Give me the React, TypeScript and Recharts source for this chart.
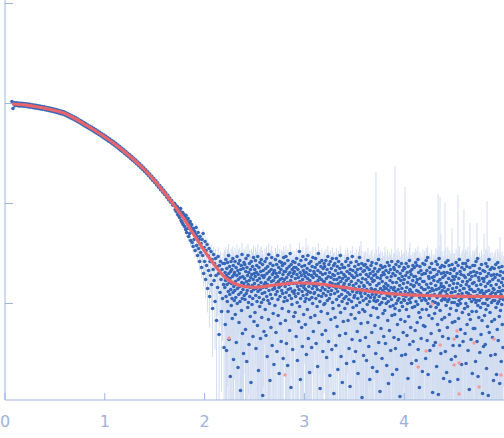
import { ComposedChart, Scatter, Line, XAxis, YAxis, ErrorBar } from 'recharts'

const lowStart = 0.07
const lowStep = 0.01
const lowLogI = [
  0.02, -0.05, 0.008, -0.022, 0.006, -0.02, 0.004, -0.024, 0.003, -0.025,
  0.001, -0.026, 0.0, -0.028, -0.002, -0.031, -0.006, -0.034, -0.009, -0.037,
  -0.012, -0.041, -0.016, -0.044, -0.019, -0.047, -0.022, -0.051, -0.026, -0.054,
  -0.03, -0.058, -0.033, -0.062, -0.037, -0.066, -0.042, -0.071, -0.046, -0.075,
  -0.05, -0.08, -0.055, -0.084, -0.06, -0.09, -0.066, -0.096, -0.072, -0.102,
  -0.078, -0.108, -0.084, -0.114, -0.092, -0.124, -0.102, -0.134, -0.112, -0.144,
  -0.122, -0.154, -0.132, -0.164, -0.143, -0.176, -0.155, -0.188, -0.167, -0.2,
  -0.179, -0.212, -0.191, -0.224, -0.203, -0.236, -0.215, -0.248, -0.227, -0.26,
  -0.239, -0.272, -0.251, -0.284, -0.263, -0.297, -0.276, -0.31, -0.289, -0.323,
  -0.302, -0.336, -0.315, -0.349, -0.328, -0.363, -0.342, -0.377, -0.356, -0.391,
  -0.37, -0.405, -0.384, -0.419, -0.399, -0.435, -0.415, -0.451, -0.431, -0.467,
  -0.447, -0.483, -0.463, -0.499, -0.48, -0.516, -0.497, -0.533, -0.514, -0.55,
  -0.531, -0.567, -0.548, -0.584, -0.566, -0.603, -0.585, -0.622, -0.604, -0.641,
  -0.623, -0.66, -0.642, -0.679, -0.662, -0.701, -0.684, -0.723, -0.706, -0.745,
  -0.728, -0.767, -0.75, -0.789, -0.772, -0.814, -0.796, -0.838, -0.82, -0.862,
  -0.844, -0.886, -0.868, -0.91, -0.893, -0.936, -0.919, -0.962, -0.945, -0.988,
  -0.971, -1.014, -0.997,
]

const midStart = 1.7
const midStep = 0.005
const midLogI = [
  -1.0, -1.06, -1.02, -1.08, -1.04, -1.03, -1.11, -1.05, -1.12, -1.06,
  -1.14, -1.08, -1.05, -1.17, -1.1, -1.19, -1.09, -1.21, -1.13, -1.11,
  -1.23, -1.14, -1.26, -1.12, -1.29, -1.17, -1.25, -1.15, -1.33, -1.2,
  -1.3, -1.18, -1.37, -1.24, -1.21, -1.39, -1.27, -1.43, -1.25, -1.36,
  -1.28, -1.47, -1.31, -1.24, -1.42, -1.33, -1.52, -1.29, -1.45, -1.36,
  -1.58, -1.33, -1.49, -1.4, -1.64, -1.36, -1.52, -1.3, -1.7, -1.44,
  -1.58, -1.38, -1.76, -1.47, -1.62, -1.41, -1.85, -1.52, -1.67, -1.45,
  -1.93, -1.58, -1.72, -1.48, -1.81, -1.56, -2.05, -1.66, -1.51, -1.77,
  -1.6, -1.98, -1.55, -1.72, -2.17, -1.63, -1.84, -1.53, -1.7, -2.31,
  -1.62, -1.89, -1.58, -1.76, -2.08, -1.66, -1.95, -1.6, -1.81, -2.44,
]

const highStart = 2.2
const highStep = 0.0025
const highLogI = [
  -1.6, -1.84, -1.69, -2.21, -1.77, -1.56, -1.93, -1.72, -2.47, -1.65, -1.81, -1.98, -1.59, -1.74, -2.08, -1.88, -1.52, -1.7, -2.36, -1.79, -1.63, -1.91, -1.75, -2.73, -1.68, -1.86, -1.58, -2.02, -1.8, -1.66, -1.95, -2.15, -1.73, -1.55, -1.89, -1.62, -2.56, -1.83, -1.71, -1.97,
  -1.69, -1.87, -1.58, -2.11, -1.78, -1.94, -1.64, -2.39, -1.81, -1.72, -1.53, -2.0, -1.85, -1.67, -2.64, -1.76, -1.6, -1.91, -2.19, -1.7, -1.83, -1.57, -1.98, -1.74, -2.87, -1.66, -1.89, -1.62, -2.07, -1.79, -1.51, -1.95, -2.3, -1.73, -1.86, -1.65, -2.5, -1.8, -1.59, -1.92,
  -1.75, -1.61, -1.96, -1.83, -2.26, -1.68, -1.55, -1.9, -1.78, -2.58, -1.64, -1.87, -1.72, -2.04, -1.52, -1.81, -1.99, -1.69, -2.41, -1.77, -1.6, -1.93, -1.84, -2.13, -1.66, -1.74, -2.79, -1.58, -1.88, -1.71, -2.01, -1.82, -1.63, -1.95, -2.33, -1.76, -1.54, -1.86, -2.18, -1.7,
  -1.8, -1.66, -2.09, -1.73, -1.57, -1.92, -2.45, -1.85, -1.69, -1.62, -1.98, -1.77, -2.22, -1.53, -1.88, -1.71, -2.67, -1.82, -1.64, -1.94, -1.75, -2.03, -1.59, -1.86, -2.35, -1.68, -1.79, -1.56, -1.99, -2.14, -1.72, -1.9, -1.61, -2.92, -1.84, -1.67, -1.96, -1.74, -2.28, -1.81,
  -1.72, -1.89, -1.58, -2.06, -1.79, -1.65, -2.32, -1.84, -1.55, -1.93, -1.7, -2.53, -1.81, -1.63, -1.97, -1.76, -2.16, -1.51, -1.87, -1.68, -2.0, -1.74, -2.77, -1.6, -1.91, -1.82, -2.24, -1.66, -1.78, -1.54, -1.95, -2.42, -1.71, -1.86, -1.62, -2.1, -1.77, -1.69, -2.61, -1.83,
  -1.67, -1.85, -2.02, -1.74, -1.56, -1.91, -2.29, -1.7, -1.8, -1.61, -2.48, -1.88, -1.73, -1.52, -1.96, -2.12, -1.78, -1.64, -1.84, -2.7, -1.69, -1.58, -1.93, -1.76, -2.2, -1.82, -1.66, -2.38, -1.59, -1.87, -1.75, -2.05, -1.62, -1.9, -1.71, -2.55, -1.79, -1.54, -1.98, -1.68,
  -1.76, -1.6, -1.94, -1.83, -2.17, -1.68, -1.53, -1.89, -2.4, -1.74, -1.65, -1.97, -1.79, -2.62, -1.57, -1.86, -1.71, -2.08, -1.81, -1.63, -1.92, -2.27, -1.69, -1.5, -1.85, -1.77, -2.84, -1.61, -1.95, -1.73, -2.01, -1.66, -1.88, -2.46, -1.58, -1.8, -1.7, -2.13, -1.64, -1.9,
  -1.68, -1.87, -1.59, -2.09, -1.75, -1.93, -1.64, -2.33, -1.8, -1.55, -1.71, -1.99, -2.57, -1.83, -1.66, -1.9, -1.74, -2.18, -1.61, -1.86, -1.48, -2.03, -1.78, -1.69, -2.76, -1.95, -1.57, -1.82, -1.72, -2.24, -1.63, -1.88, -2.43, -1.76, -1.53, -1.92, -1.67, -2.11, -1.84, -1.7,
  -1.81, -1.62, -1.98, -1.73, -2.21, -1.86, -1.56, -1.69, -2.51, -1.79, -1.91, -1.65, -2.06, -1.75, -1.52, -1.88, -2.35, -1.71, -1.83, -1.6, -1.96, -2.69, -1.77, -1.67, -1.89, -2.14, -1.58, -1.8, -1.72, -2.44, -1.94, -1.63, -1.85, -2.0, -1.54, -1.74, -2.28, -1.82, -1.68, -1.9,
  -1.7, -1.89, -2.12, -1.64, -1.79, -1.55, -1.95, -2.4, -1.83, -1.72, -1.61, -2.03, -1.86, -2.63, -1.67, -1.77, -1.5, -1.92, -2.19, -1.81, -1.74, -1.59, -1.98, -2.85, -1.69, -1.87, -1.63, -2.08, -1.76, -1.93, -1.57, -2.31, -1.84, -1.71, -2.48, -1.65, -1.9, -1.78, -2.01, -1.6,
  -1.78, -1.63, -2.0, -1.86, -1.7, -2.27, -1.57, -1.92, -1.75, -2.54, -1.82, -1.66, -1.97, -2.1, -1.53, -1.88, -1.73, -2.38, -1.61, -1.84, -1.95, -1.69, -2.72, -1.79, -1.58, -1.91, -2.16, -1.74, -1.65, -1.87, -2.46, -1.8, -1.55, -1.99, -1.71, -2.05, -1.83, -1.62, -2.9, -1.76,
  -1.72, -1.9, -1.6, -2.14, -1.81, -1.67, -2.42, -1.85, -1.55, -1.96, -1.76, -2.23, -1.63, -1.88, -2.66, -1.7, -1.8, -1.58, -2.02, -1.93, -1.74, -2.32, -1.65, -1.84, -1.52, -2.09, -1.78, -2.53, -1.69, -1.91, -1.61, -1.98, -2.79, -1.75, -1.86, -1.64, -2.18, -1.82, -1.71, -1.95,
  -1.8, -1.64, -2.05, -1.87, -1.73, -2.3, -1.58, -1.93, -1.77, -2.6, -1.84, -1.68, -2.0, -1.55, -1.89, -2.17, -1.75, -1.62, -1.96, -2.45, -1.81, -1.7, -1.91, -2.83, -1.66, -1.85, -1.59, -2.11, -1.78, -1.98, -1.72, -2.36, -1.53, -1.88, -1.67, -2.04, -1.82, -1.74, -2.58, -1.94,
  -1.74, -1.92, -1.63, -2.15, -1.85, -2.48, -1.69, -1.8, -1.58, -2.02, -1.89, -1.72, -2.28, -1.66, -1.95, -2.7, -1.77, -1.61, -1.87, -2.09, -1.83, -1.54, -1.99, -2.37, -1.71, -1.9, -1.65, -2.2, -1.79, -1.93, -1.6, -2.94, -1.86, -1.75, -2.06, -1.68, -1.97, -2.52, -1.82, -1.62,
  -1.83, -1.67, -2.08, -1.9, -1.61, -2.34, -1.76, -1.95, -1.71, -2.57, -1.86, -1.64, -2.01, -1.79, -2.19, -1.57, -1.92, -1.73, -2.43, -1.88, -1.66, -1.98, -2.76, -1.81, -1.7, -1.94, -2.12, -1.62, -1.85, -1.75, -2.29, -1.59, -1.91, -2.64, -1.78, -1.68, -2.04, -1.87, -1.72, -1.97,
  -1.77, -1.94, -1.65, -2.22, -1.86, -1.71, -2.5, -1.91, -1.6, -2.05, -1.82, -2.68, -1.74, -1.97, -1.68, -2.14, -1.88, -1.56, -2.39, -1.8, -1.93, -1.66, -2.01, -2.88, -1.75, -1.85, -1.62, -2.25, -1.9, -1.72, -1.99, -2.55, -1.78, -1.64, -1.87, -2.1, -1.69, -1.95, -2.33, -1.83,
  -1.71, -1.89, -2.07, -1.63, -1.95, -2.4, -1.8, -1.67, -2.0, -1.85, -2.62, -1.74, -1.92, -1.59, -2.17, -1.82, -1.98, -2.8, -1.69, -1.87, -1.62, -2.27, -1.93, -1.77, -2.03, -1.66, -2.47, -1.84, -1.73, -1.96, -1.58, -2.12, -1.9, -2.71, -1.79, -1.7, -2.02, -1.86, -1.64, -2.34,
  -1.84, -1.66, -2.11, -1.93, -1.72, -2.45, -1.88, -1.61, -2.0, -1.79, -2.66, -1.91, -1.68, -2.21, -1.97, -1.58, -1.86, -2.36, -1.75, -1.95, -1.63, -2.07, -1.82, -2.93, -1.7, -1.89, -2.16, -1.77, -1.99, -1.6, -2.52, -1.85, -1.73, -2.03, -1.67, -1.92, -2.29, -1.8, -1.96, -1.64,
  -1.76, -1.97, -1.65, -2.18, -1.88, -2.51, -1.72, -1.93, -1.6, -2.06, -1.84, -2.32, -1.69, -2.0, -1.79, -2.75, -1.63, -1.9, -2.13, -1.74, -1.96, -1.57, -2.41, -1.86, -1.68, -1.99, -2.24, -1.81, -1.71, -1.94, -2.6, -1.66, -1.89, -2.04, -1.77, -1.62, -2.38, -1.92, -1.83, -1.73,
  -1.82, -1.64, -2.03, -1.91, -2.27, -1.73, -1.59, -1.98, -2.57, -1.79, -1.87, -1.62, -2.19, -1.76, -2.01, -1.56, -2.46, -1.88, -1.69, -2.09, -1.81, -2.84, -1.94, -1.63, -1.75, -2.14, -1.9, -1.67, -2.35, -1.84, -1.97, -1.71, -2.06, -2.68, -1.78, -1.6, -1.93, -2.22, -1.86, -1.7,
  -1.78, -1.95, -1.61, -2.23, -1.86, -1.7, -2.55, -1.97, -1.57, -2.06, -1.81, -1.67, -2.37, -1.9, -1.54, -2.0, -2.71, -1.84, -1.73, -2.12, -1.75, -1.95, -1.64, -2.47, -1.88, -1.69, -2.03, -1.8, -2.3, -1.92, -1.6, -1.85, -2.15, -1.74, -2.89, -1.98, -1.66, -1.87, -2.42, -1.77,
  -1.73, -1.91, -2.1, -1.66, -1.99, -2.39, -1.82, -1.58, -2.04, -1.86, -2.63, -1.71, -1.94, -1.61, -2.21, -1.78, -2.01, -2.91, -1.68, -1.85, -1.55, -2.27, -1.92, -1.76, -2.07, -1.64, -1.89, -2.5, -1.8, -1.7, -1.97, -2.16, -1.62, -1.87, -2.33, -1.74, -1.95, -1.83, -2.75, -1.69,
  -1.84, -1.63, -2.14, -1.95, -1.72, -2.48, -1.88, -1.59, -2.02, -1.79, -2.69, -1.91, -1.69, -2.24, -1.98, -1.57, -1.86, -2.35, -1.75, -1.96, -1.62, -2.11, -1.82, -2.78, -1.7, -1.93, -2.05, -1.66, -1.89, -2.56, -1.77, -1.99, -1.61, -2.19, -1.85, -1.73, -2.42, -1.94, -1.8, -1.67,
  -1.76, -1.99, -1.65, -2.18, -1.88, -2.53, -1.73, -1.94, -1.59, -2.07, -1.84, -2.33, -1.7, -2.01, -1.8, -2.76, -1.62, -1.91, -2.15, -1.75, -1.97, -1.56, -2.42, -1.87, -1.68, -2.0, -2.26, -1.82, -1.71, -1.95, -2.61, -1.64, -1.9, -2.09, -1.78, -1.6, -2.38, -1.93, -1.85, -1.72,
  -1.85, -1.66, -2.05, -1.93, -2.3, -1.74, -1.6, -2.0, -2.6, -1.81, -1.89, -1.63, -2.21, -1.78, -2.03, -1.57, -2.47, -1.9, -1.71, -2.11, -1.83, -2.86, -1.95, -1.64, -1.76, -2.16, -1.92, -1.69, -2.36, -1.86, -1.98, -1.73, -2.08, -2.7, -1.8, -1.62, -1.94, -2.25, -1.88, -1.68,
  -1.79, -1.96, -1.62, -2.25, -1.88, -1.72, -2.58, -1.99, -1.58, -2.08, -1.82, -1.69, -2.38, -1.92, -1.55, -2.02, -2.73, -1.86, -1.74, -2.14, -1.77, -1.97, -1.65, -2.49, -1.89, -1.7, -2.04, -1.81, -2.31, -1.94, -1.61, -1.87, -2.17, -1.75, -2.9, -2.0, -1.67, -1.9, -2.43, -1.78,
  -1.75, -1.92, -2.12, -1.68, -2.0, -2.41, -1.83, -1.6, -2.06, -1.88, -2.65, -1.73, -1.96, -1.63, -2.23, -1.8, -2.02, -2.92, -1.7, -1.87, -1.56, -2.29, -1.94, -1.78, -2.09, -1.66, -1.91, -2.52, -1.82, -1.72, -1.99, -2.18, -1.64, -1.89, -2.34, -1.76, -1.97, -1.85, -2.77, -1.71,
  -1.86, -1.65, -2.16, -1.97, -1.74, -2.51, -1.9, -1.61, -2.04, -1.81, -2.71, -1.93, -1.71, -2.26, -2.0, -1.59, -1.88, -2.37, -1.77, -1.98, -1.64, -2.13, -1.84, -2.8, -1.72, -1.95, -2.07, -1.68, -1.91, -2.58, -1.79, -2.01, -1.63, -2.21, -1.87, -1.75, -2.44, -1.96, -1.82, -1.69,
]

// linear-intensity error, one value per 0.1 of q
const sigmaBins = [
  0.02, 0.008, 0.008, 0.008, 0.008, 0.008, 0.008, 0.008, 0.008, 0.008,
  0.005, 0.005, 0.005, 0.005, 0.005, 0.005, 0.005, 0.005, 0.005, 0.005,
  0.006, 0.007, 0.009, 0.0095, 0.009, 0.0095, 0.009, 0.0085, 0.008, 0.0075,
  0.008, 0.0085, 0.008, 0.0075, 0.008, 0.0085, 0.009, 0.0095, 0.009, 0.0095,
  0.009, 0.0095, 0.009, 0.0095, 0.01, 0.0095, 0.01, 0.0095, 0.01, 0.0095,
]

// single points with very long error bars
const spikeQ = [3.016, 3.567, 3.717, 3.808, 3.908, 4.008, 4.058, 4.339, 4.359, 4.369, 4.409, 4.479, 4.539, 4.599, 4.659, 4.729, 4.8, 4.83, 4.96]
const spikeLogI = [-1.95, -1.88, -1.98, -1.85, -2.05, -1.92, -1.87, -2.0, -1.9, -1.83, -1.96, -1.89, -2.02, -1.93, -1.86, -1.97, -1.9, -1.94, -1.88]
const spikeSigma = [0.034, 0.029, 0.196, 0.023, 0.228, 0.134, 0.027, 0.114, 0.104, 0.034, 0.09, 0.044, 0.112, 0.076, 0.05, 0.053, 0.037, 0.094, 0.033]

// model fit
const fitQ = [
  0.07, 0.2, 0.3, 0.4, 0.5, 0.6, 0.7, 0.8, 0.9, 1.0, 1.1, 1.2, 1.3, 1.4, 1.5, 1.6, 1.7, 1.8, 1.9, 2.0,
  2.1, 2.2, 2.3, 2.4, 2.5, 2.6, 2.7, 2.8, 2.9, 3.0, 3.1, 3.2, 3.3, 3.4, 3.5, 3.6, 3.7, 3.8, 3.9, 4.0,
  4.2, 4.4, 4.6, 4.8, 5.0,
]
const fitLogI = [
  -0.005, -0.014, -0.03, -0.048, -0.07, -0.1, -0.15, -0.21, -0.27, -0.335, -0.405, -0.485, -0.57, -0.665, -0.775, -0.895, -1.025, -1.165, -1.325, -1.475,
  -1.615, -1.735, -1.8, -1.83, -1.838, -1.83, -1.815, -1.803, -1.795, -1.795, -1.8, -1.81, -1.825, -1.838, -1.855, -1.87, -1.885, -1.895, -1.905, -1.912,
  -1.92, -1.925, -1.928, -1.93, -1.933,
]

// points rejected from the fit
const outlierQ = [2.245, 2.806, 4.14, 4.22, 4.28, 4.36, 4.5, 4.5, 4.53, 4.55, 4.55, 4.7, 4.75, 4.9, 4.97]
const outlierLogI = [-2.345, -2.715, -2.635, -2.475, -2.005, -2.415, -2.355, -2.615, -2.275, -2.595, -2.905, -2.395, -2.835, -2.355, -2.715]

const Y_MIN = -2.965
const Y_MAX = 1.035
const AXIS = '#9fb3de'

function withErr(q: number, v: number, s: number) {
  const I = Math.pow(10, v)
  // bars that run below the frame stop at its bottom edge
  const lo = I - s > Math.pow(10, Y_MIN) ? Math.log10(I - s) : Y_MIN
  const hi = Math.min(Y_MAX, Math.log10(I + s))
  return { q, v, err: [v - lo, hi - v] }
}

function segment(start: number, step: number, vals: number[]) {
  return vals.map((v, i) => {
    const q = +(start + i * step).toFixed(4)
    const bin = Math.min(sigmaBins.length - 1, Math.floor(q * 10 + 1e-9))
    return withErr(q, v, sigmaBins[bin])
  })
}

const measured = [
  ...segment(lowStart, lowStep, lowLogI),
  ...segment(midStart, midStep, midLogI),
  ...segment(highStart, highStep, highLogI),
  ...spikeQ.map((q, i) => withErr(q, spikeLogI[i], spikeSigma[i])),
].filter((d) => d.v > Y_MIN)
const fitData = fitQ.map((q, i) => ({ q, v: fitLogI[i] }))
const outlierData = outlierQ.map((q, i) => ({ q, v: outlierLogI[i] }))

const BlueDot = (p: any) => <circle cx={p.cx} cy={p.cy} r={1.8} fill="#3566b8" />
const RedDot = (p: any) => <circle cx={p.cx} cy={p.cy} r={1.8} fill="#f29b9b" />
const NoLabel = () => <g />

export default function App() {
  return (
    <div style={{ position: 'absolute', left: 0, top: 0 }}>
      <ComposedChart width={504} height={438} margin={{ top: 0, right: 0, bottom: 0, left: 0 }}>
        <XAxis
          type="number"
          dataKey="q"
          domain={[0, 5]}
          ticks={[0, 1, 2, 3, 4]}
          height={38}
          tickSize={-7}
          tickMargin={23}
          stroke={AXIS}
          tick={{ fill: AXIS, fontSize: 16, fontFamily: 'DejaVu Sans' }}
          allowDataOverflow
        />
        <YAxis
          type="number"
          dataKey="v"
          domain={[Y_MIN, Y_MAX]}
          ticks={[-2, -1, 0, 1]}
          width={5}
          tickSize={-8}
          tick={NoLabel}
          stroke={AXIS}
          allowDataOverflow
        />
        <Scatter data={measured} shape={BlueDot} isAnimationActive={false}>
          <ErrorBar dataKey="err" direction="y" width={0} stroke="#d2ddf1" strokeWidth={1} isAnimationActive={false} />
        </Scatter>
        <Line
          data={fitData}
          dataKey="v"
          type="monotone"
          stroke="#e8666b"
          strokeWidth={3.2}
          dot={false}
          activeDot={false}
          isAnimationActive={false}
          zIndex={700}
        />
        <Scatter data={outlierData} shape={RedDot} isAnimationActive={false} zIndex={800} />
      </ComposedChart>
    </div>
  )
}
